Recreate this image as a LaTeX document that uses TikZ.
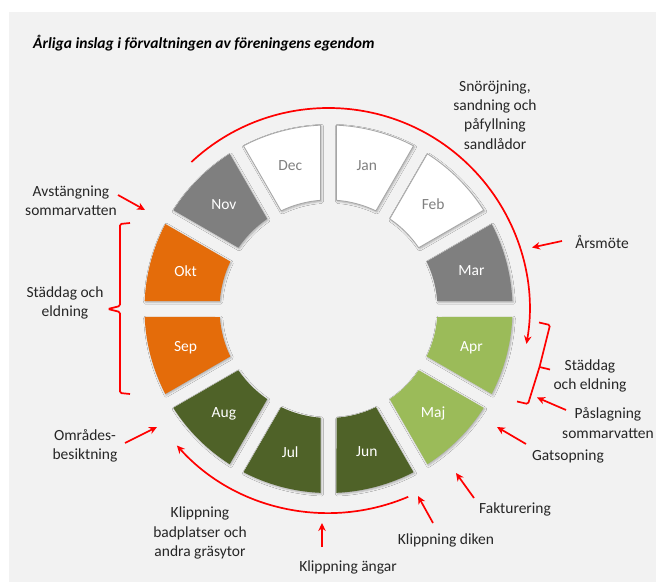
\documentclass[tikz,border=0pt]{standalone}
\usepackage{fontspec}
\setmainfont{Carlito}
\usetikzlibrary{arrows.meta,shadows.blur}
\definecolor{bg}{HTML}{F2F2F2}
\definecolor{mgray}{HTML}{7F7F7F}
\definecolor{segedge}{HTML}{A6A6A6}
\definecolor{monthtxt}{HTML}{808080}
\definecolor{orangeseg}{HTML}{E46C0A}
\definecolor{lgreen}{HTML}{9BBB59}
\definecolor{dgreen}{HTML}{4F6228}
\definecolor{labtxt}{HTML}{262626}
\def\segRo{184}
\def\segRi{109}
\def\segGo{2.49}
\def\segGi{4.21}
\begin{document}
\begin{tikzpicture}[x=1pt,y=1pt,
  font=\fontsize{15.5}{19.3}\selectfont,
  lab/.style={align=center, text=labtxt, inner sep=0pt},
  redarrow/.style={draw=red, line width=1.7pt, -{Stealth[length=8pt,width=7.5pt]}},
  bracket/.style={draw=red, line width=1.7pt, rounded corners=1.5pt},
  monthlab/.style={inner sep=0pt, font=\fontsize{15.5}{18}\selectfont},
  segshadow/.style={blur shadow={shadow xshift=1pt, shadow yshift=-1.2pt, shadow blur radius=2pt, shadow opacity=30}}]
\useasboundingbox (0,0) rectangle (656,582);
\fill[bg] (9,0) rectangle (656,570);

% title
\node[anchor=west, inner sep=0pt, text=black, font=\fontsize{15.5}{18}\selectfont\bfseries\itshape] (title) at (33,539) {Årliga inslag i förvaltningen av föreningens egendom};

% ring
\begin{scope}[shift={(328.5,273)}]
\foreach \a/\n/\fc/\dc/\tc in {90/Jan/white/segedge/monthtxt, 60/Feb/white/segedge/monthtxt, 30/Mar/mgray/none/white, 0/Apr/lgreen/none/white, -30/Maj/lgreen/none/white, -60/Jun/dgreen/none/white, -90/Jul/dgreen/none/white, -120/Aug/dgreen/none/white, -150/Sep/orangeseg/none/white, 180/Okt/orangeseg/none/white, 150/Nov/mgray/none/white, 120/Dec/white/segedge/monthtxt}
{
  \pgfmathsetmacro\b{\a-30}
  \pgfmathsetmacro\m{\a-15}
  \path[fill=\fc, draw=\dc, line width=0.8pt, segshadow]
    ({\a-\segGo}:\segRo) arc[start angle={\a-\segGo}, end angle={\b+\segGo}, radius=\segRo]
    -- ({\b+\segGi}:\segRi) arc[start angle={\b+\segGi}, end angle={\a-\segGi}, radius=\segRi] -- cycle;
  \node[monthlab, text=\tc] (m\n) at (\m:148) {\n};
}
% arcs
\coordinate (arcAs) at (133:201);
\coordinate (arcBs) at (-67:204);
\draw[redarrow] (arcAs) arc[start angle=133, end angle=-10, radius=201];
\draw[redarrow] (arcBs) arc[start angle=-67, end angle=-138, radius=204];
\end{scope}

% labels
\node[lab] (snow) at (495,467) {Snöröjning,\\sandning och\\påfyllning\\sandlådor};
\node[lab] (arsm) at (602,340) {Årsmöte};
\node[lab] (stadR) at (590,206) {Städdag\\och eldning};
\node[lab] (pasl) at (608,159) {Påslagning\\sommarvatten};
\node[lab] (gats) at (568,126) {Gatsopning};
\node[lab] (fakt) at (515,73) {Fakturering};
\node[lab] (dike) at (446,42) {Klippning diken};
\node[lab] (anga) at (348,15) {Klippning ängar};
\node[lab] (badp) at (200,49) {Klippning\\badplatser och\\andra gräsytor};
\node[lab] (omra) at (85,136.5) {Områdes-\\besiktning};
\node[lab] (stadL) at (65,279) {Städdag och\\eldning};
\node[lab] (avst) at (71,381) {Avstängning\\sommarvatten};

% arrows
\coordinate (avstA) at (118,387); \coordinate (avstB) at (145,372);
\coordinate (arsmA) at (562,341); \coordinate (arsmB) at (532,334.5);
\coordinate (paslA) at (566,172); \coordinate (paslB) at (537,184.5);
\coordinate (gatsA) at (526,138); \coordinate (gatsB) at (497,155);
\coordinate (faktA) at (474,84);  \coordinate (faktB) at (456,109);
\coordinate (dikeA) at (433,59);  \coordinate (dikeB) at (418,86);
\coordinate (angaA) at (322,35);  \coordinate (angaB) at (322,59);
\coordinate (omraA) at (125,139); \coordinate (omraB) at (157,155);
\foreach \k in {avst,arsm,pasl,gats,fakt,dike,anga,omra}
  \draw[redarrow] (\k A) -- (\k B);

% brackets
\draw[bracket] (130,359) -- (120,358) -- (120,276) -- (108,273) -- (120,270) -- (120,189) -- (130,188);
\draw[bracket] (539,259.5) -- (550,257) -- (539.5,215) -- (528,178) -- (517,180.5);
\draw[bracket] (539.5,215) -- (550,212.5);
\end{tikzpicture}
\end{document}
